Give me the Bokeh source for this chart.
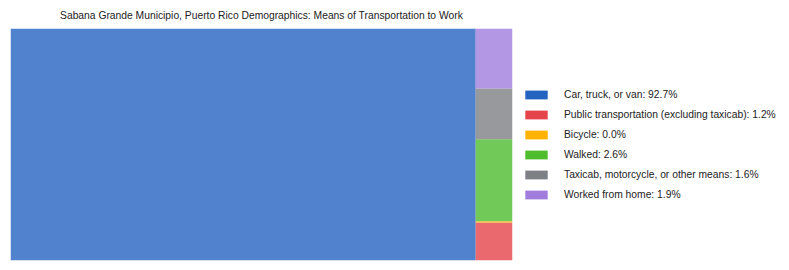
import math
from bokeh.plotting import figure
from bokeh.models import Range1d, Legend, LegendItem
from bokeh.embed import file_html
from bokeh.resources import INLINE

title_text = "Sabana Grande Municipio, Puerto Rico Demographics: Means of Transportation to Work"
categories = [
    "Car, truck, or van",
    "Public transportation (excluding taxicab)",
    "Bicycle",
    "Walked",
    "Taxicab, motorcycle, or other means",
    "Worked from home",
]
percents = [92.7, 1.2, 0.04, 2.6, 1.6, 1.9]
colors = ["#2563c0", "#e5444b", "#ffb300", "#4ebc2d", "#7d8085", "#a07ddd"]

FONT = "'Liberation Sans', Arial, sans-serif"

# treemap layout: first item takes a full-height column, rest stacked from bottom
total = sum(percents)
first_w = 100.0 * percents[0] / total
lefts, rights, bottoms, tops = [0.0], [first_w], [0.0], [100.0]
rest = sum(percents[1:])
y = 0.0
for v in percents[1:]:
    h = 100.0 * v / rest
    lefts.append(first_w)
    rights.append(100.0)
    bottoms.append(y)
    tops.append(y + h)
    y += h

p = figure(
    frame_width=502, frame_height=232,
    min_border_left=10, min_border_bottom=10, min_border_top=0, min_border_right=10,
    x_range=Range1d(0, 100), y_range=Range1d(0, 100),
    output_backend="svg", toolbar_location=None,
    title=title_text,
)
p.title.align = "center"
p.title.text_font = FONT
p.title.text_font_size = "10.3px"
p.title.text_font_style = "normal"
p.title.text_color = "#222222"
p.title.standoff = 15
p.axis.visible = False
p.xgrid.visible = False
p.ygrid.visible = False
p.outline_line_color = None
p.background_fill_color = "white"
p.border_fill_color = "white"

p.quad(left=lefts, right=rights, bottom=bottoms, top=tops,
       fill_color=colors, fill_alpha=0.8, line_color=None)

items = []
for cat, val, col in zip(categories, percents, colors):
    r = p.quad(left=[math.nan], right=[math.nan], bottom=[math.nan], top=[math.nan],
               fill_color=col, fill_alpha=1.0, line_color=None)
    items.append(LegendItem(label=f"{cat}: {val:.1f}%", renderers=[r]))

legend = Legend(items=items, location="center_left")
legend.margin = 10
legend.padding = 0
legend.spacing = 0
legend.glyph_width = 28
legend.glyph_height = 11
legend.label_height = 20
legend.label_standoff = 14
legend.label_text_font = FONT
legend.label_text_font_size = "10.3px"
legend.label_text_color = "#222222"
legend.border_line_color = None
legend.background_fill_alpha = 0
p.add_layout(legend, "right")

open("out.html", "w").write(file_html(p, INLINE))
